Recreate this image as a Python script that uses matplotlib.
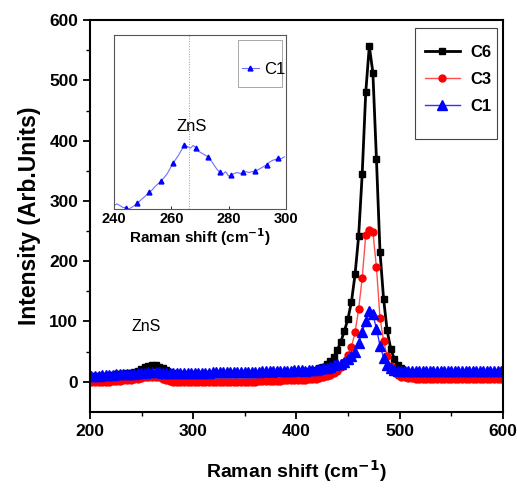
import numpy as np
import matplotlib.pyplot as plt
from matplotlib.patches import Rectangle

plt.rcParams['font.family'] = ['Liberation Sans', 'DejaVu Sans']

# Raman shift grid (cm^-1) of the main spectra
shift = np.arange(116) * 3.45 + 201.4

c6 = [9, 9, 10, 10, 10, 11, 11, 12, 12, 13,
      14, 15, 16, 18, 21, 24, 26, 27, 27, 25,
      22, 19, 16, 14, 13, 12, 12, 12, 12, 12,
      12, 12, 12, 12, 12, 12, 12, 12, 13, 13,
      13, 13, 13, 13, 13, 13, 13, 13, 13, 13,
      13, 13, 14, 14, 14, 14, 14, 15, 15, 15,
      16, 17, 18, 20, 22, 25, 29, 34, 41, 52,
      66, 84, 104, 133, 178, 241, 344, 480, 557, 513,
      370, 216, 138, 85, 55, 38, 28, 22, 18, 16,
      15, 15, 14, 14, 14, 14, 14, 14, 14, 14,
      14, 14, 14, 14, 14, 14, 14, 14, 14, 14,
      14, 14, 14, 14, 14, 14]

c3 = [-1, -1, 0, 0, 0, 0, 1, 1, 1, 2,
      2, 3, 4, 5, 6, 7, 8, 8, 8, 7,
      5, 3, 1, 0, -1, -1, -1, -1, -1, -1,
      -1, -1, -1, -1, -1, -1, -1, -1, 0, 0,
      0, 0, 0, 0, 0, 0, 0, 1, 1, 1,
      1, 1, 1, 1, 2, 2, 2, 2, 3, 3,
      3, 4, 4, 5, 6, 7, 9, 11, 14, 18,
      24, 32, 44, 58, 82, 120, 172, 243, 252, 249,
      190, 106, 68, 42, 26, 16, 11, 8, 7, 6,
      6, 5, 5, 5, 5, 5, 5, 5, 5, 5,
      5, 5, 5, 5, 5, 5, 5, 5, 5, 5,
      5, 5, 5, 5, 5, 5]

c1 = [10, 10, 10, 11, 11, 11, 11, 12, 12, 12,
      12, 13, 13, 14, 14, 15, 16, 16, 16, 16,
      15, 15, 15, 15, 15, 15, 15, 15, 15, 15,
      15, 15, 15, 15, 16, 16, 16, 16, 16, 16,
      16, 16, 16, 16, 16, 16, 16, 16, 17, 17,
      17, 17, 17, 17, 18, 18, 18, 19, 19, 20,
      18, 19, 19, 20, 21, 22, 23, 25, 27, 30,
      30, 33, 37, 42, 50, 64, 83, 100, 118, 112,
      88, 60, 40, 28, 22, 19, 18, 17, 17, 17,
      17, 17, 17, 17, 17, 17, 17, 17, 17, 17,
      17, 17, 17, 17, 17, 17, 17, 17, 17, 17,
      17, 17, 17, 17, 17, 17]

# inset: C1 around the ZnS band
ins_x = np.arange(59) * 1.025 + 240
ins_y = [2, 3, 2, 1, 0.8, 0, 1, 2, 3.3, 5,
         6.5, 8, 9.6, 11, 13, 14.5, 16.1, 18, 20, 23,
         26.2, 28.5, 31, 34, 36.6, 36, 35, 36.5, 35.2, 33,
         32, 31, 30.1, 28, 25.5, 23, 21.1, 20, 21.5, 19,
         19.5, 20.5, 21, 20.5, 21.1, 21.5, 21, 21.5, 21.8, 22.5,
         23.5, 24.5, 25.5, 27, 28, 28.5, 29.3, 29, 30]

fig = plt.figure(figsize=(5.17, 4.92), dpi=100)
ax = fig.add_axes([0.174, 0.163, 0.799, 0.796])

ax.plot(shift, c6, color='black', lw=2, marker='s', ms=4.8, label='C6')
ax.plot(shift, c3, color='#ff5050', lw=1, marker='o', ms=5, mfc='red', mec='red', label='C3')
ax.plot(shift, c1, color='#3030ff', lw=1, marker='^', ms=6.5, mfc='blue', mec='blue', label='C1')

ax.set_xlim(200, 600)
ax.set_ylim(-50, 600)
ax.set_xticks([200, 300, 400, 500, 600])
ax.set_xticks([250, 350, 450, 550], minor=True)
ax.set_yticks([0, 100, 200, 300, 400, 500, 600])
ax.set_yticks([50, 150, 250, 350, 450, 550], minor=True)
ax.tick_params(which='major', direction='out', length=5, width=1.3, labelsize=12.5)
ax.tick_params(which='minor', direction='out', length=3, width=1.0)
for lab in ax.get_xticklabels() + ax.get_yticklabels():
    lab.set_fontweight('bold')
for s in ax.spines.values():
    s.set_linewidth(1.5)

ax.set_xlabel('Raman shift (cm$^{\\mathbf{-1}}$)', fontsize=14, fontweight='bold', labelpad=14)
ax.set_ylabel('Intensity (Arb.Units)', fontsize=16.5, fontweight='bold', labelpad=6)
ax.text(254, 91, 'ZnS', fontsize=11.5, ha='center', va='center')

# legend box drawn separately so it can be narrow and tall
ax.add_patch(Rectangle((0.787, 0.696), 0.198, 0.284, transform=ax.transAxes,
                       fill=True, fc='white', ec='#444444', lw=0.8, zorder=4))
leg = ax.legend(loc='upper left', bbox_to_anchor=(0.811, 0.936), frameon=False,
                prop={'weight': 'bold', 'size': 12}, borderpad=0, borderaxespad=0,
                handlelength=2.1, handletextpad=0.6, labelspacing=0.72)
leg.set_zorder(5)

# inset
ins = fig.add_axes([0.2205, 0.575, 0.3325, 0.354])
ins.plot(ins_x, ins_y, color='#7070ff', lw=0.8, marker='^', ms=3.5, mfc='blue', mec='blue',
         markevery=(4, 4), label='C1')
ins.axvline(266.3, color='#999999', lw=0.7, ls=':')
ins.text(267.1, 47.3, 'ZnS', fontsize=12, ha='center', va='center')
ins.set_xlim(240, 300)
ins.set_ylim(0, 100)
ins.set_xticks([240, 260, 280, 300])
ins.set_yticks([])
ins.tick_params(axis='x', direction='in', length=2.5, width=0.6, labelsize=10.5, pad=2)
for lab in ins.get_xticklabels():
    lab.set_fontweight('bold')
for s in ins.spines.values():
    s.set_linewidth(0.8)
    s.set_color('#555555')
ins.set_xlabel('Raman shift (cm$^{\\mathbf{-1}}$)', fontsize=11, fontweight='bold', labelpad=0)
ins.add_patch(Rectangle((0.722, 0.701), 0.256, 0.27, transform=ins.transAxes,
                        fill=True, fc='white', ec='#999999', lw=0.6, zorder=4))
il = ins.legend(loc='center left', bbox_to_anchor=(0.745, 0.803), frameon=False,
                prop={'size': 12}, borderpad=0, borderaxespad=0,
                handlelength=1.0, handletextpad=0.35)
il.set_zorder(5)

fig.savefig('out.png', dpi=100)
